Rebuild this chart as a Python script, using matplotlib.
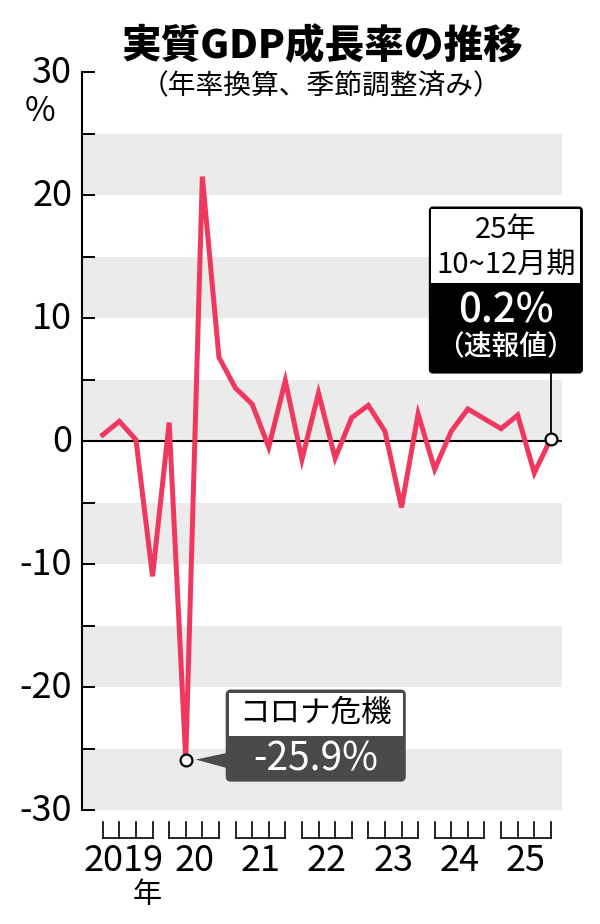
import matplotlib
matplotlib.use('Agg')
import matplotlib.pyplot as plt
from matplotlib.patches import FancyBboxPatch, Polygon
from matplotlib.transforms import IdentityTransform, blended_transform_factory, ScaledTranslation
from matplotlib.lines import Line2D
import numpy as np

plt.rcParams['font.family'] = ['Noto Sans CJK JP', 'DejaVu Sans']
plt.rcParams['axes.unicode_minus'] = False

# ---- data ----
title = "実質GDP成長率の推移"
subtitle = "（年率換算、季節調整済み）"
years = ["2019", "20", "21", "22", "23", "24", "25"]
quarters_per_year = 4
growth = [0.5, 1.6, 0.1, -11.0,
          1.5, -25.9, 21.5, 6.8,
          4.3, 3.0, -0.5, 4.9,
          -1.5, 3.9, -1.4, 1.9,
          2.9, 0.8, -5.4, 2.2,
          -2.3, 0.8, 2.6, 1.8,
          1.0, 2.1, -2.6, 0.2]
yticks = [-30, -20, -10, 0, 10, 20, 30]
covid_idx = 5
latest_idx = len(growth) - 1

RED = '#f0385e'
BAND = '#ebebeb'
DARK = '#4a4a4a'

W, H = 600, 924
fig = plt.figure(figsize=(W / 100, H / 100), dpi=100)
ax = fig.add_axes([82 / W, 1 - 810 / H, 480 / W, 738 / H])
ax.set_xlim(-1.25, 27.67)
ax.set_ylim(-30, 30)

# alternating bands
for lo in range(-30, 30, 10):
    ax.axhspan(lo, lo + 5, color=BAND, lw=0, zorder=0)
ax.axhline(0, color='black', lw=1.5, zorder=2)

x = np.arange(len(growth))
ax.plot(x, growth, color=RED, lw=3.6, solid_joinstyle='miter', zorder=3)
ax.plot([x[covid_idx], x[latest_idx]], [growth[covid_idx], growth[latest_idx]],
        'o', ms=8.5, mfc='white', mec='black', mew=1.6, zorder=5, clip_on=False)

for s in ['top', 'right', 'bottom']:
    ax.spines[s].set_visible(False)
ax.spines['left'].set_linewidth(1.5)
ax.set_yticks(yticks)
ax.set_yticklabels([str(v) for v in yticks])
ax.set_yticks(np.arange(-30, 31, 5), minor=True)
ax.tick_params(axis='y', which='both', direction='in', length=9, width=1.4, pad=7)
ax.tick_params(axis='y', which='major', labelsize=26)
ax.set_xticks([])
for lab in ax.get_yticklabels():
    lab.set_transform(lab.get_transform() + ScaledTranslation(0, 3 / 100, fig.dpi_scale_trans))

# % unit
ax.text(-0.055, 26.8, '%', transform=blended_transform_factory(ax.transAxes, ax.transData),
        ha='right', va='center', fontsize=24)

# year brackets
bt = blended_transform_factory(ax.transData, ax.transAxes)
for k, yl in enumerate(years):
    q = x[k * quarters_per_year:(k + 1) * quarters_per_year]
    for qq in q:
        ax.add_line(Line2D([qq, qq], [-0.0163, -0.0379], transform=bt, color='black',
                           lw=1.2, clip_on=False))
    ax.add_line(Line2D([q[0], q[-1]], [-0.0379, -0.0379], transform=bt, color='black',
                       lw=1.2, clip_on=False))
    cx = q.mean() if k > 0 else q.mean() - 0.26
    ax.text(cx, -0.0691, yl, transform=bt, ha='center', va='center', fontsize=26)
    if k == 0:
        ax.text(q.mean() + 1.15, -0.1152, '年', transform=bt, ha='center', va='center',
                fontsize=21)

# title
fig.text(322 / W, 1 - 46 / H, title, ha='center', va='center', fontsize=28.5, fontweight='black')
fig.text(321 / W, 1 - 86 / H, subtitle, ha='center', va='center', fontsize=20)

fig.canvas.draw()
I = IdentityTransform()


def disp(i):
    return ax.transData.transform((x[i], growth[i]))


# ---- annotation: covid ----
px, py = disp(covid_idx)
L, R = px + 41, px + 219
T, B, S = py + 69, py - 21, py + 24
fig.add_artist(Polygon([[px + 10, py], [L + 2, py + 7], [L + 2, py - 9]], closed=True,
                       transform=I, facecolor=DARK, edgecolor='none', zorder=4))
fig.add_artist(FancyBboxPatch((L, B), R - L, T - B, boxstyle='round,pad=0,rounding_size=4',
                              transform=I, facecolor=DARK, edgecolor=DARK, lw=1.5, zorder=4))
fig.add_artist(FancyBboxPatch((L + 2, S), R - L - 4, T - S - 2, boxstyle='square,pad=0',
                              transform=I, facecolor='white', edgecolor='none', zorder=4))
fig.text((L + R) / 2 / W, ((T + S) / 2) / H, 'コロナ危機', ha='center', va='center',
         fontsize=22, color='black', zorder=6)
fig.text((L + R) / 2 / W, ((S + B) / 2 - 1) / H, f'{growth[covid_idx]}%', ha='center',
         va='center', fontsize=28, color='white', zorder=6)

# ---- annotation: latest ----
px, py = disp(latest_idx)
L, R = px - 121, px + 31
T, B, S = py + 231, py + 66, py + 156
fig.add_artist(Line2D([px, px], [B, py + 6], transform=I, color='black', lw=1.3, zorder=4))
fig.add_artist(FancyBboxPatch((L, B), R - L, T - B, boxstyle='round,pad=0,rounding_size=3',
                              transform=I, facecolor='black', edgecolor='black', lw=1.5, zorder=4))
fig.add_artist(FancyBboxPatch((L + 1.5, S), R - L - 3, T - S - 1.5, boxstyle='square,pad=0',
                              transform=I, facecolor='white', edgecolor='none', zorder=4))
cx = (L + R) / 2 / W
fig.text(cx, (py + 209) / H, '25年', ha='center', va='center', fontsize=21, zorder=6)
fig.text(cx, (py + 174) / H, '10~12月期', ha='center', va='center', fontsize=21, zorder=6)
fig.text(cx, (py + 128) / H, f'{growth[latest_idx]}%', ha='center', va='center', fontsize=29,
         color='white', fontweight='medium', zorder=6)
fig.text(cx, (py + 92) / H, '（速報値）', ha='center', va='center', fontsize=20,
         color='white', fontweight='medium', zorder=6)

fig.savefig('out.png', dpi=100)
